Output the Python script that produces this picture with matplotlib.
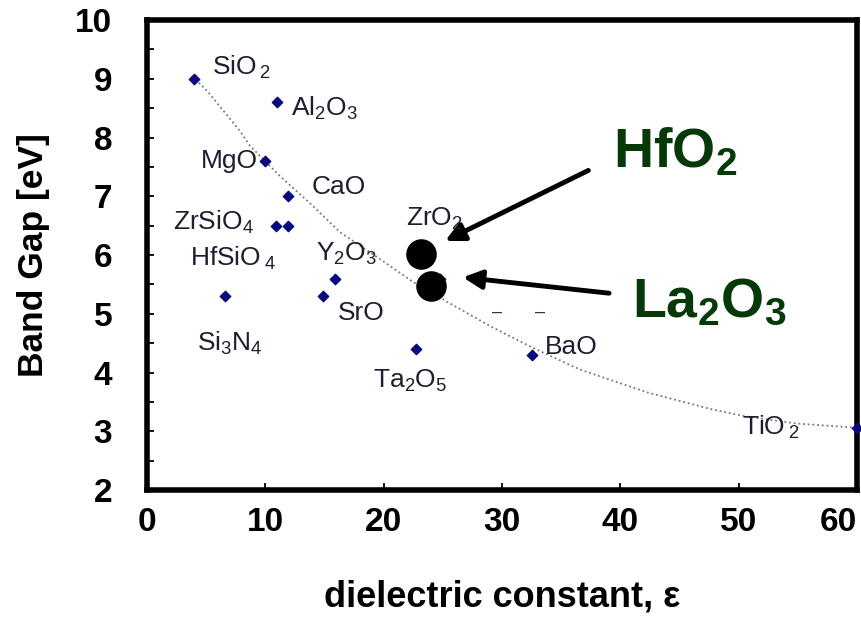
import matplotlib
matplotlib.use("Agg")
import matplotlib.pyplot as plt

plt.rcParams['font.family'] = ['Liberation Sans', 'DejaVu Sans']
plt.rcParams['mathtext.fontset'] = 'custom'
plt.rcParams['mathtext.rm'] = 'Liberation Sans'
plt.rcParams['mathtext.it'] = 'Liberation Sans'
plt.rcParams['mathtext.bf'] = 'Liberation Sans:bold'
plt.rcParams['mathtext.default'] = 'regular'

# Dielectric materials: dielectric constant vs. band gap
materials = ['SiO2', 'Al2O3', 'MgO', 'CaO', 'ZrSiO4', 'HfSiO4', 'Y2O3', 'SrO',
             'Si3N4', 'Ta2O5', 'BaO', 'TiO2', 'ZrO2']
k_values = [4.0, 11.0, 10.0, 11.9, 10.9, 11.9, 15.9, 14.9, 6.6, 22.7, 32.5, 60.0, 24.8]
gap_values = [9.0, 8.6, 7.6, 7.0, 6.5, 6.5, 5.6, 5.3, 5.3, 4.4, 4.3, 3.05, 5.6]

# Label text and anchor for each material
label_text = [r'SiO$\,_2$', r'Al$_2$O$_3$', 'MgO', 'CaO', r'ZrSiO$_4$', r'HfSiO$\,_4$',
              r'Y$_2$O$_3$', 'SrO', r'Si$_3$N$_4$', r'Ta$_2$O$_5$', 'BaO', r'TiO$\,_2$',
              r'ZrO$_2$']
label_x = [5.5, 12.2, 9.4, 13.9, 2.2, 3.6, 14.3, 16.1, 4.2, 19.1, 33.6, 50.3, 21.9]
label_y = [9.2, 8.5, 7.6, 7.15, 6.55, 5.95, 6.02, 5.02, 4.5, 3.85, 4.43, 3.07, 6.62]
label_ha = ['left', 'left', 'right', 'left', 'left', 'left', 'left', 'left', 'left',
            'left', 'left', 'left', 'left']

# Trend curve through the data
trend_k = [4.1, 5.1, 7.9, 8.7, 11.2, 14.0, 16.3, 19.7, 22.5, 25.4, 29.0, 32.4,
           36.6, 42.3, 47.8, 50.7, 55.0, 60.0]
trend_gap = [8.99, 8.79, 8.1, 7.86, 7.35, 6.84, 6.39, 5.93, 5.54, 5.2, 4.79, 4.44,
             4.05, 3.66, 3.37, 3.25, 3.13, 3.06]

# Highlighted high-k candidates
highlight_names = [r'HfO$_2$', r'La$_2$O$_3$']
highlight_k = [23.2, 24.0]
highlight_gap = [6.02, 5.48]

fig = plt.figure(figsize=(8.61, 6.22), dpi=100)
ax = fig.add_axes([0.1707, 0.2122, 0.8246, 0.7556])

ax.plot(trend_k, trend_gap, linestyle=(0, (1, 1.6)), color='#777777', lw=1.3, zorder=2)
ax.scatter(k_values, gap_values, marker='D', s=28, color='#0a0a80', zorder=3, clip_on=False)

text_color = '#1e1e30'
for t, x, y, ha in zip(label_text, label_x, label_y, label_ha):
    ax.text(x, y, t, fontsize=19, color=text_color, ha=ha, va='center', zorder=4)

# faint remnants of dashes in the plot
ax.text(29.6, 5.02, '–', fontsize=13, color='#333344', ha='center', va='center')
ax.text(33.2, 5.02, '–', fontsize=13, color='#333344', ha='center', va='center')

ax.plot(highlight_k, highlight_gap, 'o', color='black', markersize=21, zorder=5)

green = '#053a08'
ax.annotate('', xy=(25.2, 6.24), xytext=(37.3, 7.44),
            arrowprops=dict(arrowstyle='-|>', lw=3.5, color='black', mutation_scale=28,
                            shrinkA=0, shrinkB=0))
ax.annotate('', xy=(26.7, 5.62), xytext=(39.05, 5.35),
            arrowprops=dict(arrowstyle='-|>', lw=3.5, color='black', mutation_scale=28,
                            shrinkA=0, shrinkB=0))
ax.text(39.4, 7.73, highlight_names[0], fontsize=40, fontweight='bold', color=green,
        ha='left', va='center')
ax.text(41.0, 5.17, highlight_names[1], fontsize=40, fontweight='bold', color=green,
        ha='left', va='center')

ax.set_xlim(0, 60)
ax.set_ylim(2, 10)
ax.set_xticks([0, 10, 20, 30, 40, 50, 60])
ax.set_yticks([2, 3, 4, 5, 6, 7, 8, 9, 10])
ax.set_yticks([2.5, 3.5, 4.5, 5.5, 6.5, 7.5, 8.5, 9.5], minor=True)
ax.tick_params(axis='both', which='both', direction='in', width=1.3, color='black')
ax.tick_params(axis='both', which='major', length=5, labelsize=24)
ax.tick_params(axis='x', which='major', pad=12)
ax.tick_params(axis='y', which='major', pad=25)
ax.tick_params(axis='y', which='minor', length=5)
for lab in ax.get_xticklabels() + ax.get_yticklabels():
    lab.set_fontweight('bold')
ax.get_xticklabels()[-1].set_horizontalalignment('right')
for sp in ax.spines.values():
    sp.set_linewidth(4)

ax.set_xlabel('dielectric constant, ε', fontsize=26, fontweight='bold', labelpad=30)
ax.set_ylabel('Band Gap [eV]', fontsize=25.5, fontweight='bold', labelpad=18)

fig.savefig('out.png', dpi=100)
